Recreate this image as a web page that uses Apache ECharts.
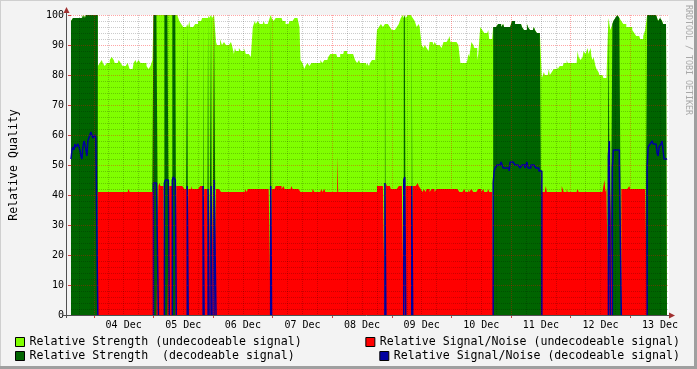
<!DOCTYPE html>
<html><head><meta charset="utf-8">
<script src="https://cdn.jsdelivr.net/npm/echarts@6/dist/echarts.min.js"></script>
<style>html,body{margin:0;padding:0;background:#f3f3f3}#c{width:697px;height:369px}</style>
</head><body><div id="c"></div>
<script>
// One slot = 24 minutes (1 px). Slot 0 = 03 Dec 14:48.
const totalSlots = 602;
const dataEnd = 600;
const firstMidnightSlot = 23;
const slotsPerDay = 60;
const slotsPer6h = 15;
const dayLabels = ['04 Dec','05 Dec','06 Dec','07 Dec','08 Dec','09 Dec','10 Dec','11 Dec','12 Dec','13 Dec'];

// Relative strength, change points [slot, value]
const strength = [
[0,98],[2,99],[11,100],[12,99],[13,100],[14,99],[15,100],
[27,83],[29,84],[31,85],[32,84],[34,83],[36,84],[39,85],[41,86],[43,85],[44,84],[48,85],[50,84],[52,83],[57,84],[59,82],[63,84],[65,85],[66,84],[68,85],[70,84],[76,83],[78,82],[80,83],[82,85],
[83,100],[108,99],[109,98],[111,97],[113,96],[117,97],[118,96],[119,98],[120,96],[125,97],[128,98],[132,99],[138,100],[139,99],[141,100],[142,99],[144,100],
[146,91],[147,90],[150,92],[151,91],[152,90],[154,91],[156,90],[161,91],[162,90],[164,87],[165,89],[166,88],[169,89],[171,88],[174,89],[176,87],[181,86],
[183,96],[185,98],[186,97],[188,98],[190,97],[194,98],[195,97],[199,98],[200,99],[201,100],[202,99],[204,98],[206,99],[213,98],[216,97],[220,98],[225,99],[230,96],
[231,85],[233,84],[235,82],[236,83],[238,84],[240,83],[242,84],[251,85],[253,84],[255,85],[259,86],[261,87],[268,86],[271,87],[275,88],[278,87],[285,86],[286,85],[288,84],[290,85],[291,84],[297,83],[298,84],[300,83],[301,84],[303,85],[306,84],
[308,95],[310,96],[312,97],[314,96],[316,97],[321,96],[323,95],[328,96],[330,97],[331,98],[332,99],[334,100],[335,99],[336,100],[337,99],[339,100],[344,99],[346,98],[348,96],[350,97],[351,96],
[353,90],[355,89],[356,90],[358,89],[360,88],[361,91],[365,90],[366,91],[368,90],[373,89],[375,91],[380,92],[381,93],[382,91],[390,90],[391,87],[392,84],[399,85],[400,87],[401,86],[403,91],[405,90],[406,89],[409,85],[410,87],
[412,96],[414,95],[416,94],[420,95],[421,92],[425,96],[430,97],[433,96],[435,97],[436,96],[443,97],[444,98],[447,97],[454,96],[456,95],[459,97],[460,96],[462,95],[466,96],[467,95],[469,94],
[474,79],[476,81],[477,80],[481,82],[482,80],[484,81],[486,82],[489,83],[490,82],[492,83],[496,84],[499,85],[500,84],[510,88],[511,86],[513,85],[515,86],[516,88],[518,87],[520,89],[521,87],[523,89],[524,86],[525,85],[526,86],[528,83],[529,82],[531,81],[532,80],[536,79],
[541,99],[543,95],[545,97],[546,98],[548,99],[550,100],[552,99],[554,98],[556,97],[559,96],[565,95],[567,94],[569,93],[573,92],[576,93],[578,95],
[580,100],[591,98],[593,99],[595,98],[596,97]
];

// Relative signal/noise, change points [slot, value]
const signalNoise = [
[0,52],[1,55],[2,56],[3,55],[4,57],[5,56],[7,57],[9,55],[10,53],[11,52],[12,56],[13,58],[14,57],[16,53],[17,58],[18,59],[20,61],[21,60],[22,59],[24,60],[25,59],
[27,41],[58,42],[59,41],
[83,44],[88,43],[89,44],[90,43],[94,44],[95,45],[99,43],[102,45],[103,46],[105,45],[106,43],[114,42],[117,43],[118,42],[121,43],[122,42],[130,43],[134,42],[141,43],[142,42],[144,45],[146,42],[151,41],
[175,42],[177,41],[178,42],[201,43],[202,42],[206,43],[212,42],[214,43],[215,42],[222,43],[223,42],[231,41],[243,42],[245,41],[252,42],[253,41],[255,42],[256,41],[268,53],[269,41],
[308,43],[316,44],[318,43],[322,42],[330,43],[333,44],[335,45],[336,46],[337,43],[349,44],[350,43],[352,42],[354,41],[355,42],[357,41],[358,42],[361,41],[363,42],[366,41],[368,42],[391,41],[396,42],[397,41],[400,42],[401,41],[403,42],[405,41],[410,42],[413,41],[415,42],[416,41],[420,42],[421,41],
[425,44],[426,48],[427,49],[429,50],[433,51],[435,49],[441,48],[442,51],[447,50],[452,49],[454,50],[457,49],[458,50],[459,51],[460,49],[463,50],[468,49],[471,48],
[474,41],[478,43],[479,41],[494,43],[496,41],[499,42],[500,41],[510,42],[511,41],[537,45],[538,41],[539,42],
[541,53],[542,58],[543,42],[545,49],[546,55],[552,51],[554,42],[562,43],[563,42],
[580,49],[581,56],[583,57],[585,58],[586,57],[590,54],[591,53],[592,56],[594,57],[595,58],[596,55],[597,52]
];

// Slot ranges [start, end) where the signal was decodeable
const decodeable = [[0,27],[83,88],[94,99],[102,106],[117,118],[133,134],[138,139],[141,142],[144,146],[201,202],[316,317],[335,337],[343,344],[425,474],[541,543],[545,554],[580,600]];

const names = {
  strU: 'Relative Strength (undecodeable signal)',
  strD: 'Relative Strength  (decodeable signal)',
  snU: 'Relative Signal/Noise (undecodeable signal)',
  snD: 'Relative Signal/Noise (decodeable signal)'
};

function expand(points) {
  const out = new Array(dataEnd); let k = 0;
  for (let i = 0; i < dataEnd; i++) {
    while (k + 1 < points.length && points[k + 1][0] <= i) k++;
    out[i] = points[k][1];
  }
  return out;
}
const S = expand(strength), N = expand(signalNoise);
const dec = new Array(dataEnd).fill(false);
decodeable.forEach(([a, b]) => { for (let i = a; i < b; i++) dec[i] = true; });
function stepData(fn) {
  const d = [];
  for (let i = 0; i < dataEnd; i++) d.push([i, fn(i)]);
  d.push([dataEnd, fn(dataEnd - 1)]);
  return d;
}

const FONT = 'DejaVu Sans Mono';
const cats = [];
for (let i = 0; i <= totalSlots; i++) {
  const rel = i - firstMidnightSlot - slotsPerDay / 2;
  const di = rel / slotsPerDay;
  cats.push(rel >= 0 && rel % slotsPerDay === 0 && di < dayLabels.length ? dayLabels[di] : ' ' + i);
}
const isMidnight = i => i >= firstMidnightSlot && (i - firstMidnightSlot) % slotsPerDay === 0;
const isMinor = i => !isMidnight(i) && ((i - firstMidnightSlot) % slotsPer6h + slotsPer6h) % slotsPer6h === 0 && i > 0 && i < totalSlots;

const areaSeries = (name, color, fn) => ({
  type: 'line', name, xAxisIndex: 0, yAxisIndex: 0, step: 'end', symbol: 'none',
  color, lineStyle: { width: 0 }, areaStyle: { color, opacity: 1 },
  data: stepData(fn), z: 2, animation: false
});

const series = [
  areaSeries(names.strU, '#80ff00', i => S[i]),
  areaSeries(names.strD, '#006400', i => dec[i] ? S[i] : 0),
  areaSeries(names.snU, '#ff0000', i => dec[i] ? 0 : N[i])
];
decodeable.forEach(([a, b]) => {
  const d = a > 0 ? [[a, 0]] : [];
  for (let i = a; i < b; i++) d.push([i, N[i]]);
  d.push([b, N[b - 1]]);
  if (b < dataEnd) d.push([b, 0]);
  series.push({ type: 'line', name: names.snD, xAxisIndex: 0, yAxisIndex: 0, step: 'end', symbol: 'none',
    color: '#0000a0', lineStyle: { width: 1.5, color: '#0000a0' }, data: d, z: 3, animation: false });
});

const legendBase = { orient: 'horizontal', padding: 0, itemWidth: 9, itemHeight: 9, icon: 'rect',
  itemStyle: { borderColor: '#000', borderWidth: 1 },
  textStyle: { fontFamily: FONT, fontSize: 11.6, color: '#000' }, selectedMode: false };

const chart = echarts.init(document.getElementById('c'), null, { renderer: 'canvas' });
chart.setOption({
  backgroundColor: '#f3f3f3',
  animation: false,
  grid: { left: 67, top: 15, width: totalSlots, height: 300, show: true, backgroundColor: '#ffffff', borderWidth: 0 },
  legend: [
    Object.assign({}, legendBase, { data: [names.strU], left: 15, top: 336 }),
    Object.assign({}, legendBase, { data: [names.strD], left: 15, top: 350 }),
    Object.assign({}, legendBase, { data: [names.snU], right: 17, top: 336 }),
    Object.assign({}, legendBase, { data: [names.snD], right: 17, top: 350 })
  ],
  xAxis: [
    { type: 'value', min: 0, max: totalSlots, show: false },
    { type: 'category', data: cats, boundaryGap: false, position: 'bottom', z: 5,
      axisLine: { show: false },
      axisTick: { show: true, interval: (i) => isMidnight(i), length: 3, lineStyle: { color: '#d04040' } },
      axisLabel: { interval: (i, v) => v.charAt(0) !== ' ', fontFamily: FONT, fontSize: 10, color: '#000', margin: 5 },
      splitLine: { show: true, interval: (i) => isMidnight(i), lineStyle: { color: 'rgba(255,0,0,0.35)', type: [1, 1], width: 1 } } },
    { type: 'category', data: cats, boundaryGap: false, position: 'bottom', z: 4,
      axisLine: { show: false }, axisTick: { show: false }, axisLabel: { show: false },
      splitLine: { show: true, interval: (i) => isMinor(i), lineStyle: { color: 'rgba(0,0,0,0.2)', type: [1, 1], width: 1 } } }
  ],
  yAxis: [{
    type: 'value', min: 0, max: 100, interval: 10, z: 5,
    axisLine: { show: false },
    axisTick: { show: true, length: 3, lineStyle: { color: '#d04040' } },
    axisLabel: { fontFamily: FONT, fontSize: 10, color: '#000', margin: 7 },
    splitLine: { show: true, lineStyle: { color: 'rgba(255,0,0,0.35)', type: [1, 1], width: 1 } },
    minorTick: { show: false, splitNumber: 5 },
    minorSplitLine: { show: true, lineStyle: { color: 'rgba(0,0,0,0.2)', type: [1, 1], width: 1 } },
    name: 'Relative Quality', nameLocation: 'middle', nameGap: 51,
    nameTextStyle: { fontFamily: FONT, fontSize: 11.6, color: '#000' }
  }],
  series,
  graphic: [
    { type: 'rect', shape: { x: 0, y: 0, width: 697, height: 1 }, style: { fill: '#cfcfcf' }, z: 100, silent: true },
    { type: 'rect', shape: { x: 0, y: 0, width: 1, height: 369 }, style: { fill: '#cfcfcf' }, z: 100, silent: true },
    { type: 'rect', shape: { x: 694, y: 0, width: 3, height: 369 }, style: { fill: '#9f9f9f' }, z: 100, silent: true },
    { type: 'rect', shape: { x: 0, y: 366, width: 697, height: 3 }, style: { fill: '#9f9f9f' }, z: 100, silent: true },
    { type: 'line', shape: { x1: 66.5, y1: 318, x2: 66.5, y2: 11 }, style: { stroke: '#505050', lineWidth: 1 }, z: 100, silent: true },
    { type: 'line', shape: { x1: 63, y1: 315.5, x2: 670, y2: 315.5 }, style: { stroke: '#505050', lineWidth: 1 }, z: 100, silent: true },
    { type: 'polygon', shape: { points: [[63.5, 13], [69.5, 13], [66.5, 7]] }, style: { fill: '#a03030' }, z: 101, silent: true },
    { type: 'polygon', shape: { points: [[669, 312.5], [669, 318.5], [675, 315.5]] }, style: { fill: '#a03030' }, z: 101, silent: true },
    { type: 'text', x: 684, y: 5, rotation: -Math.PI / 2,
      style: { text: 'RRDTOOL / TOBI OETIKER', font: '8.3px "DejaVu Sans Mono"', fill: '#a8a8a8', textAlign: 'left', textVerticalAlign: 'bottom' }, z: 100, silent: true }
  ]
});
</script></body></html>
